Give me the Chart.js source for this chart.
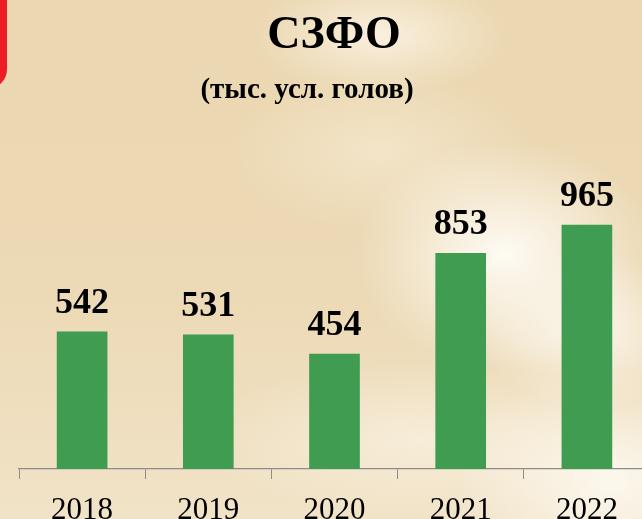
<!DOCTYPE html>
<html>
<head>
<meta charset="utf-8">
<script src="https://cdn.jsdelivr.net/npm/chart.js@4/dist/chart.umd.min.js"></script>
<style>
  html, body { margin: 0; padding: 0; width: 642px; height: 519px; overflow: hidden; }
  body {
    position: relative;
    background:
      radial-gradient(ellipse 150px 115px at 505px 255px, rgba(255,253,248,0.95), rgba(255,253,248,0) 100%),
      radial-gradient(ellipse 110px 80px at 590px 330px, rgba(255,252,246,0.8), rgba(255,252,246,0) 100%),
      radial-gradient(ellipse 130px 60px at 380px 35px, rgba(255,250,240,0.7), rgba(255,250,240,0) 100%),
      radial-gradient(ellipse 150px 80px at 380px 150px, rgba(252,244,228,0.45), rgba(252,244,228,0) 100%),
      radial-gradient(ellipse 160px 110px at 610px 480px, rgba(255,252,246,0.85), rgba(255,252,246,0) 100%),
      radial-gradient(ellipse 220px 80px at 420px 440px, rgba(250,242,226,0.7), rgba(250,242,226,0) 100%),
      linear-gradient(180deg, #ebd7b0 0%, #ecd9b5 55%, #f1e3c7 100%);
  }
  #corner {
    position: absolute; left: -44px; top: -20px; width: 51px; height: 109px;
    box-sizing: border-box; border: 7px solid #ee1c25; border-radius: 20px;
  }
  #wrap { position: absolute; left: 0; top: 0; width: 680px; height: 519px; }
</style>
</head>
<body>
<div id="corner"></div>
<div id="wrap"><canvas id="c"></canvas></div>
<script>
const categories = ['2018', '2019', '2020', '2021', '2022'];
const values = [542, 531, 454, 853, 965];
const titleText = 'СЗФО';
const subtitleText = '(тыс. усл. голов)';

const textPlugin = {
  id: 'texts',
  afterDatasetsDraw(chart) {
    const ctx = chart.ctx;
    ctx.save();
    ctx.fillStyle = '#000';
    ctx.textAlign = 'center';
    ctx.textBaseline = 'alphabetic';
    ctx.font = 'bold 46px "Liberation Serif", "Times New Roman", serif';
    ctx.fillText(titleText, 334, 48);
    ctx.font = 'bold 29px "Liberation Serif", "Times New Roman", serif';
    ctx.fillText(subtitleText, 307, 98);
    ctx.font = 'bold 36px "Liberation Serif", "Times New Roman", serif';
    const meta = chart.getDatasetMeta(0);
    meta.data.forEach((bar, i) => {
      ctx.fillText(String(chart.data.datasets[0].data[i]), bar.x, bar.y - 19);
    });
    ctx.restore();
  }
};

new Chart(document.getElementById('c'), {
  type: 'bar',
  data: {
    labels: categories,
    datasets: [{
      data: values,
      backgroundColor: '#3f9c50',
      borderWidth: 0,
      barThickness: 50
    }]
  },
  options: {
    responsive: true,
    maintainAspectRatio: false,
    animation: false,
    layout: { padding: { top: 115, left: 19, right: 30, bottom: 0 } },
    plugins: { legend: { display: false }, tooltip: { enabled: false }, title: { display: false } },
    scales: {
      x: {
        offset: true,
        grid: { display: true, drawOnChartArea: false, drawTicks: true, tickLength: 10, color: '#8c8c8c', offset: true, lineWidth: 1 },
        border: { display: true, color: '#8c8c8c', width: 1.3 },
        ticks: { color: '#000', padding: 13, font: { family: '"Liberation Serif", "Times New Roman", serif', size: 31 }, maxRotation: 0, autoSkip: false },
        afterFit(scale) { scale.height = 50; }
      },
      y: { display: false, min: 0, max: 1400 }
    }
  },
  plugins: [textPlugin]
});
</script>
</body>
</html>
